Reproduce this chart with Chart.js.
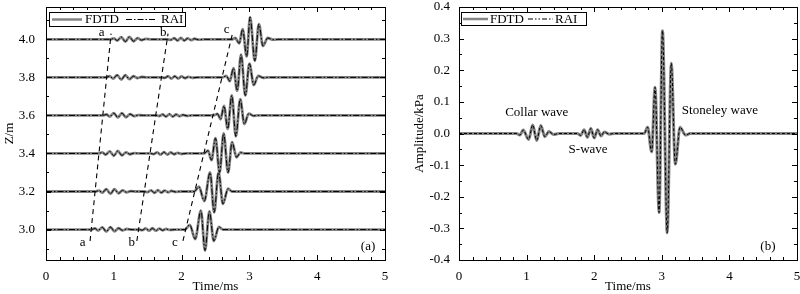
<!DOCTYPE html>
<html><head><meta charset="utf-8">
<script src="https://cdn.jsdelivr.net/npm/chart.js@4/dist/chart.umd.min.js"></script>
<style>
html,body{margin:0;padding:0;background:#fff;}
#wrap{position:relative;width:800px;height:294px;overflow:hidden;}
.panel{position:absolute;top:0;width:400px;height:294px;}
</style></head><body>
<div id="wrap">
<div class="panel" style="left:0"><canvas id="cA" width="400" height="294"></canvas></div>
<div class="panel" style="left:400px"><canvas id="cB" width="400" height="294"></canvas></div>
</div>
<script>
// ---------- Panel (a): receiver depths and traces (time in ms, amplitude in Z-offset units) ----------
const depths = [3.0, 3.2, 3.4, 3.6, 3.8, 4.0];

const time30 = [0, 0.67,0.72,0.77,0.83,0.89,0.95,1.01,1.07,1.13,1.19,1.27, 1.37,1.42,1.47,1.52,1.57,1.62,1.67,1.72,1.77,1.83,1.90, 2.05,2.12,2.20,2.285,2.345,2.41,2.475,2.55,2.61, 5];
const amp30  = [0, 0,0.006,-0.005,0.012,-0.011,0.013,-0.009,0.007,-0.004,0.003,0, 0,-0.003,0.006,-0.006,0.007,-0.006,0.005,-0.004,0.003,-0.002,0, 0,0.025,-0.05,0.10,-0.11,0.095,-0.06,0.014,0, 0];

const time32 = [0, 0.73,0.78,0.83,0.89,0.95,1.01,1.07,1.13,1.19,1.25,1.33, 1.45,1.50,1.55,1.60,1.65,1.70,1.75,1.80,1.85,1.91,1.98, 2.185,2.255,2.335,2.42,2.48,2.545,2.61,2.685,2.745, 5];
const amp32  = [0, 0,0.005,-0.006,0.012,-0.012,0.012,-0.009,0.006,-0.004,0.002,0, 0,-0.003,0.006,-0.007,0.007,-0.006,0.005,-0.004,0.003,-0.002,0, 0,0.025,-0.05,0.10,-0.11,0.10,-0.065,0.015,0, 0];

const time34 = [0, 0.78,0.83,0.88,0.94,1.00,1.06,1.12,1.18,1.24,1.30,1.38, 1.54,1.59,1.64,1.69,1.74,1.79,1.84,1.89,1.94,2.00,2.07, 2.33,2.39,2.44,2.50,2.56,2.62,2.685,2.745,2.81,2.87,2.93, 5];
const amp34  = [0, 0,0.006,-0.006,0.011,-0.012,0.013,-0.010,0.006,-0.004,0.002,0, 0,-0.003,0.006,-0.006,0.007,-0.006,0.005,-0.004,0.003,-0.002,0, 0,0.015,-0.035,0.08,-0.10,0.105,-0.10,0.06,-0.02,0.005,0, 0];

const time36 = [0, 0.84,0.89,0.94,1.00,1.06,1.12,1.18,1.24,1.30,1.36,1.44, 1.62,1.67,1.72,1.77,1.82,1.87,1.92,1.97,2.02,2.08,2.15, 2.46,2.53,2.575,2.625,2.68,2.74,2.80,2.865,2.925,2.99,3.06,3.12, 5];
const amp36  = [0, 0,0.005,-0.006,0.012,-0.011,0.012,-0.010,0.007,-0.004,0.002,0, 0,-0.003,0.005,-0.006,0.007,-0.006,0.005,-0.004,0.003,-0.002,0, 0,0.008,-0.02,0.05,-0.07,0.105,-0.11,0.085,-0.045,0.01,-0.002,0, 0];

const time38 = [0, 0.89,0.94,0.99,1.05,1.11,1.17,1.23,1.29,1.35,1.41,1.49, 1.70,1.75,1.80,1.85,1.90,1.95,2.00,2.05,2.10,2.16,2.23, 2.60,2.66,2.71,2.765,2.82,2.877,2.94,3.0,3.065,3.13,3.2,3.27, 5];
const amp38  = [0, 0,0.006,-0.006,0.012,-0.012,0.012,-0.009,0.006,-0.004,0.002,0, 0,-0.003,0.006,-0.006,0.006,-0.006,0.005,-0.004,0.003,-0.002,0, 0,0.008,-0.02,0.048,-0.07,0.12,-0.095,0.072,-0.04,0.008,-0.002,0, 0];

const time40 = [0, 0.95,1.00,1.05,1.11,1.17,1.23,1.29,1.35,1.41,1.47,1.55, 1.79,1.84,1.89,1.94,1.99,2.04,2.09,2.14,2.19,2.25,2.32, 2.74,2.79,2.85,2.90,2.96,3.01,3.08,3.14,3.20,3.27,3.35,3.42, 5];
const amp40  = [0, 0,0.005,-0.006,0.012,-0.012,0.013,-0.010,0.006,-0.004,0.002,0, 0,-0.003,0.006,-0.006,0.007,-0.006,0.005,-0.004,0.003,-0.002,0, 0,0.007,-0.021,0.053,-0.09,0.117,-0.113,0.08,-0.035,0.007,-0.002,0, 0];

const tracesTime = [time30, time32, time34, time36, time38, time40];
const tracesAmp  = [amp30, amp32, amp34, amp36, amp38, amp40];

// move-out guide lines a, b, c
const guideNames = ['a', 'b', 'c'];
const guideTimesBottom = [0.65, 1.34, 2.02];
const guideTimesTop    = [0.96, 1.80, 2.75];
const guideZBottom = 2.94, guideZTop = 4.03;

// ---------- Panel (b): single trace, amplitude in kPa ----------
const timeB = [0, 0.85,0.90,0.95,1.03,1.09,1.15,1.21,1.27,1.33,1.40,1.48, 1.75,1.80,1.85,1.90,1.95,2.00,2.05,2.10,2.15,2.22,2.30, 2.74,2.79,2.85,2.90,2.96,3.01,3.08,3.14,3.20,3.27,3.35,3.42, 5];
const ampB  = [0, 0,-0.005,0.011,-0.019,0.027,-0.022,0.025,-0.01,0.006,-0.003,0, 0,-0.006,0.012,-0.012,0.016,-0.014,0.012,-0.008,0.005,-0.002,0, 0,0.02,-0.058,0.146,-0.25,0.325,-0.314,0.222,-0.097,0.02,-0.005,0, 0];

// ---------- tick labels ----------
const xMajorTicks = [0, 1, 2, 3, 4, 5];
const xMinorTicks = [0.2,0.4,0.6,0.8,1.2,1.4,1.6,1.8,2.2,2.4,2.6,2.8,3.2,3.4,3.6,3.8,4.2,4.4,4.6,4.8];
const yMajorTicksA = [3.0, 3.2, 3.4, 3.6, 3.8, 4.0];
const yMinorTicksA = [2.9, 3.1, 3.3, 3.5, 3.7, 3.9, 4.1];
const yMajorTicksB = [-0.4,-0.3,-0.2,-0.1,0.0,0.1,0.2,0.3,0.4];
const yMinorTicksB = [-0.35,-0.25,-0.15,-0.05,0.05,0.15,0.25,0.35];

const FONT = "'Liberation Serif','Times New Roman',serif";
const GRAY = '#858585';

const framePlugin = {
  id: 'frame',
  afterDatasetsDraw(chart, args, o) {
    const ctx = chart.ctx;
    const {left, right, top, bottom} = chart.chartArea;
    const xs = chart.scales.x, ys = chart.scales.y;
    ctx.save();
    ctx.fillStyle = '#000';
    ctx.font = '13px ' + FONT;
    ctx.textBaseline = 'middle';
    (o.texts || []).forEach(tx => {
      ctx.textAlign = tx.align || 'center';
      ctx.fillText(tx.text, xs.getPixelForValue(tx.x), ys.getPixelForValue(tx.y));
    });
    const L = o.legend;
    if (L) {
      const bx = left + L.dx, by = top + L.dy;
      ctx.fillStyle = '#fff';
      ctx.fillRect(bx, by, L.w, L.h);
      ctx.strokeStyle = '#000'; ctx.lineWidth = 1;
      ctx.strokeRect(bx + 0.5, by + 0.5, L.w, L.h);
      const cy = by + L.h / 2 + 0.5;
      ctx.lineWidth = 2.5; ctx.strokeStyle = GRAY; ctx.setLineDash([]);
      ctx.beginPath(); ctx.moveTo(bx + L.l1[0], cy); ctx.lineTo(bx + L.l1[1], cy); ctx.stroke();
      ctx.lineWidth = 1.2; ctx.strokeStyle = '#000'; ctx.setLineDash(L.dash);
      ctx.beginPath(); ctx.moveTo(bx + L.l2[0], cy); ctx.lineTo(bx + L.l2[1], cy); ctx.stroke();
      ctx.setLineDash([]);
      ctx.fillStyle = '#000'; ctx.textAlign = 'left'; ctx.textBaseline = 'middle';
      ctx.fillText('FDTD', bx + L.t1, cy + 0.5);
      ctx.fillText('RAI', bx + L.t2, cy + 0.5);
    }
    ctx.strokeStyle = '#000'; ctx.lineWidth = 1; ctx.setLineDash([]);
    ctx.strokeRect(left + 0.5, top + 0.5, right - left, bottom - top);
    ctx.beginPath();
    const tick = (vals, len) => {
      vals.forEach(v => {
        const px = Math.round(xs.getPixelForValue(v)) + 0.5;
        ctx.moveTo(px, bottom); ctx.lineTo(px, bottom - len);
        ctx.moveTo(px, top); ctx.lineTo(px, top + len);
      });
    };
    const ytick = (vals, len) => {
      vals.forEach(v => {
        const py = Math.round(ys.getPixelForValue(v)) + 0.5;
        ctx.moveTo(left, py); ctx.lineTo(left + len, py);
        ctx.moveTo(right, py); ctx.lineTo(right - len, py);
      });
    };
    tick(o.xMajor, 5); tick(o.xMinor, 3);
    ytick(o.yMajor, 5); ytick(o.yMinor, 3);
    ctx.stroke();
    ctx.restore();
  }
};

function axisX() {
  return {
    type: 'linear', min: 0, max: 5,
    afterFit(s) { s.height = 34; s.paddingLeft = 0; s.paddingRight = 0; s.paddingTop = 0; s.paddingBottom = 0; },
    afterBuildTicks(s) { s.ticks = xMajorTicks.map(v => ({value: v})); },
    grid: {display: false, drawTicks: false, tickLength: 0}, border: {display: false},
    ticks: {padding: 9, color: '#000', font: {family: FONT, size: 13}, maxRotation: 0, callback: v => String(v)},
    title: {display: true, text: 'Time/ms', color: '#000', font: {family: FONT, size: 13}, padding: {top: 0, bottom: 0}}
  };
}

const dsA = [];
depths.forEach((d, k) => {
  const pts = tracesTime[k].map((t, i) => ({x: t, y: d + tracesAmp[k][i]}));
  dsA.push({label: 'FDTD', data: pts, borderColor: GRAY, borderWidth: 2.8, order: 3, cubicInterpolationMode: 'monotone'});
  dsA.push({label: 'RAI', data: pts, borderColor: '#000', borderWidth: 1, borderDash: [6, 2, 1.5, 2], order: 2, cubicInterpolationMode: 'monotone'});
});
guideNames.forEach((n, k) => {
  dsA.push({label: 'guide ' + n, data: [{x: guideTimesBottom[k], y: guideZBottom}, {x: guideTimesTop[k], y: guideZTop}],
    borderColor: '#000', borderWidth: 1.1, borderDash: [5, 4], order: 1, tension: 0});
});

new Chart(document.getElementById('cA'), {
  type: 'line',
  data: {datasets: dsA},
  options: {
    responsive: false, animation: false, devicePixelRatio: 1,
    layout: {padding: {top: 7, right: 15, left: 0, bottom: 0}},
    elements: {point: {radius: 0}},
    plugins: {
      legend: {display: false}, tooltip: {enabled: false},
      frame: {
        xMajor: xMajorTicks, xMinor: xMinorTicks, yMajor: yMajorTicksA, yMinor: yMinorTicksA,
        legend: {dx: 3, dy: 5, w: 136, h: 14, l1: [3, 33], t1: 36, l2: [77, 107], t2: 112, dash: [6, 2, 1.5, 2]},
        texts: [
          {text: 'a', x: 0.82, y: 4.035}, {text: 'b', x: 1.73, y: 4.035}, {text: 'c', x: 2.665, y: 4.05},
          {text: 'a', x: 0.54, y: 2.93}, {text: 'b', x: 1.265, y: 2.93}, {text: 'c', x: 1.90, y: 2.93},
          {text: '(a)', x: 4.75, y: 2.912}
        ]
      }
    },
    scales: {
      x: axisX(),
      y: {
        type: 'linear', min: 2.84, max: 4.17,
        afterFit(s) { s.width = 46; s.paddingTop = 0; s.paddingBottom = 0; s.paddingLeft = 0; s.paddingRight = 0; },
        afterBuildTicks(s) { s.ticks = yMajorTicksA.map(v => ({value: v})); },
        grid: {display: false, drawTicks: false, tickLength: 0}, border: {display: false},
        ticks: {padding: 11, color: '#000', font: {family: FONT, size: 13}, callback: v => Number(v).toFixed(1)},
        title: {display: true, text: 'Z/m', color: '#000', font: {family: FONT, size: 13}, padding: {top: 2, bottom: 0}}
      }
    }
  },
  plugins: [framePlugin]
});

const ptsB = timeB.map((t, i) => ({x: t, y: ampB[i]}));
new Chart(document.getElementById('cB'), {
  type: 'line',
  data: {datasets: [
    {label: 'FDTD', data: ptsB, borderColor: GRAY, borderWidth: 3, order: 2, cubicInterpolationMode: 'monotone'},
    {label: 'RAI', data: ptsB, borderColor: '#000', borderWidth: 1, borderDash: [3, 2], order: 1, cubicInterpolationMode: 'monotone'}
  ]},
  options: {
    responsive: false, animation: false, devicePixelRatio: 1,
    layout: {padding: {top: 7, right: 3, left: 0, bottom: 0}},
    elements: {point: {radius: 0}},
    plugins: {
      legend: {display: false}, tooltip: {enabled: false},
      frame: {
        xMajor: xMajorTicks, xMinor: xMinorTicks, yMajor: yMajorTicksB, yMinor: yMinorTicksB,
        legend: {dx: 2, dy: 5, w: 125, h: 13, l1: [2, 27], t1: 29, l2: [67, 92], t2: 94, dash: [5, 2, 1.5, 2, 1.5, 2]},
        texts: [
          {text: 'Collar wave', x: 1.15, y: 0.065},
          {text: 'S-wave', x: 1.91, y: -0.052},
          {text: 'Stoneley wave', x: 3.86, y: 0.074},
          {text: '(b)', x: 4.57, y: -0.359}
        ]
      }
    },
    scales: {
      x: axisX(),
      y: {
        type: 'linear', min: -0.4, max: 0.4,
        afterFit(s) { s.width = 59; s.paddingTop = 0; s.paddingBottom = 0; s.paddingLeft = 0; s.paddingRight = 0; },
        afterBuildTicks(s) { s.ticks = yMajorTicksB.map(v => ({value: v})); },
        grid: {display: false, drawTicks: false, tickLength: 0}, border: {display: false},
        ticks: {padding: 9, color: '#000', font: {family: FONT, size: 13}, callback: v => Number(v).toFixed(1)},
        title: {display: true, text: 'Amplitude/kPa', color: '#000', font: {family: FONT, size: 13}, padding: {top: 12, bottom: 0}}
      }
    }
  },
  plugins: [framePlugin]
});
</script>
</body></html>
